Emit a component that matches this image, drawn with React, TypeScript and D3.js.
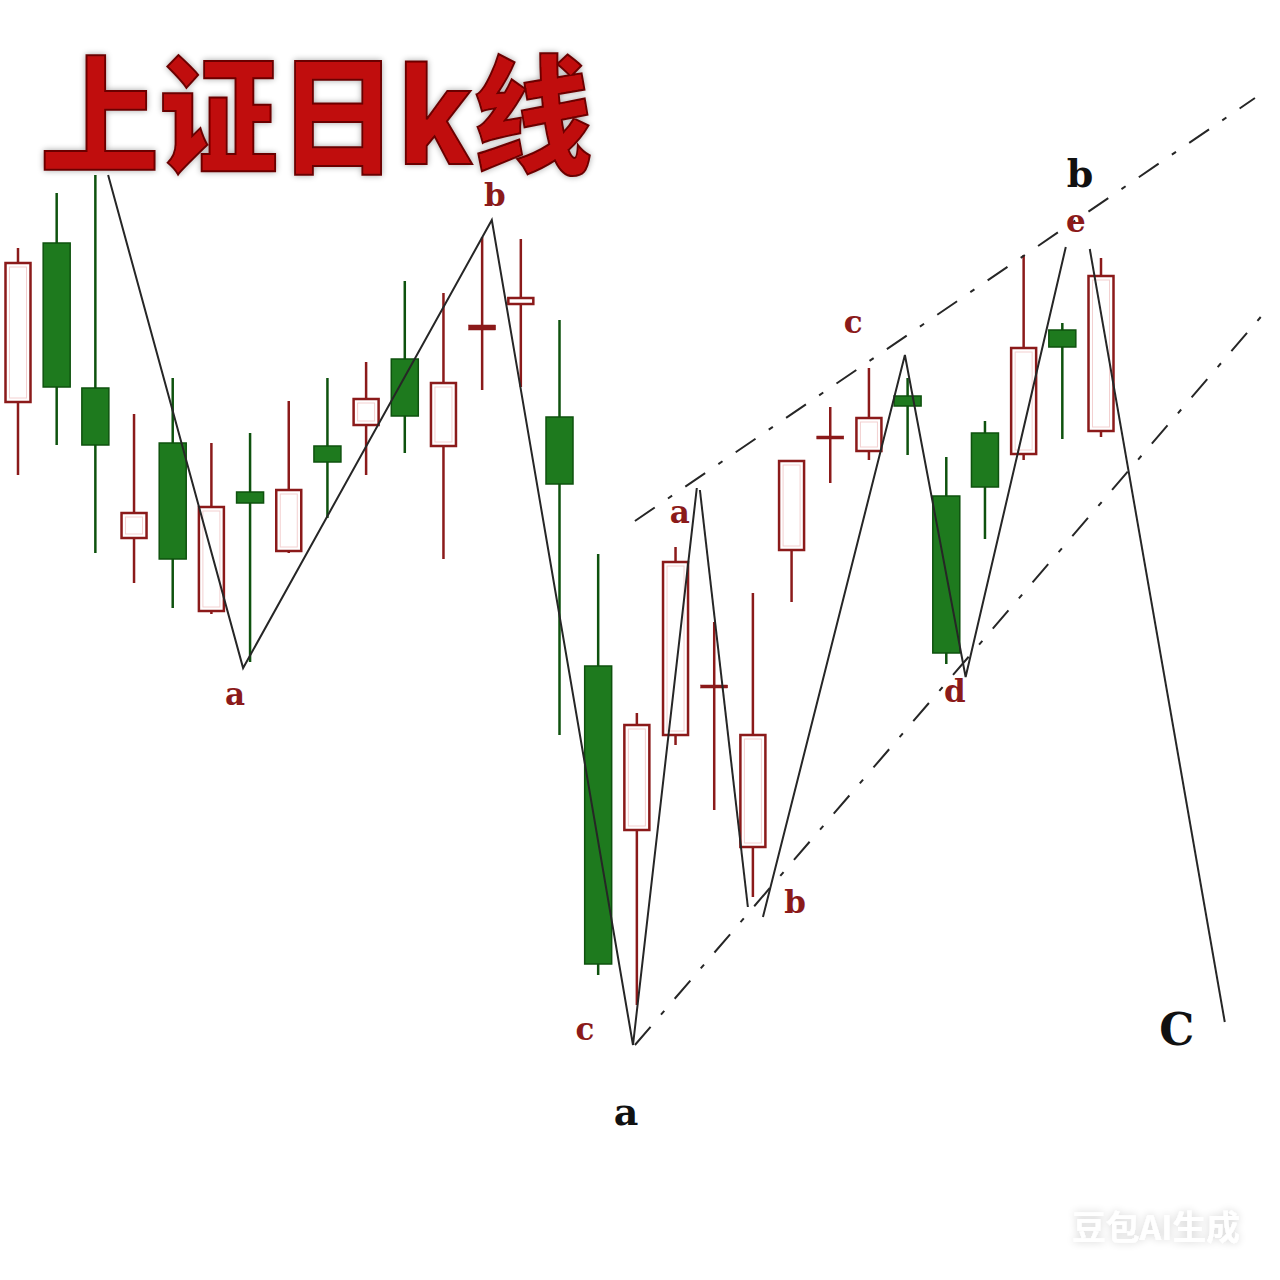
import React from 'react';
import * as d3 from 'd3';

const W = 1280;
const H = 1280;

// daily candles, price units
const opens = [697, 857, 712, 561, 657, 488, 608, 548, 654, 674, 741, 653, 770, 795, 683, 434, 269, 364, 414, 252, 549, 663, 648, 704, 604, 667, 645, 770, 668];
const closes = [838, 713, 655, 588, 541, 594, 597, 611, 638, 702, 684, 718, 775, 803, 616, 136, 376, 539, 415, 366, 640, 664, 683, 694, 447, 613, 753, 753, 825];
const highs = [852, 907, 925, 686, 722, 657, 667, 699, 722, 738, 819, 807, 863, 861, 780, 546, 387, 553, 478, 507, 640, 693, 732, 722, 643, 679, 845, 777, 842];
const lows = [625, 655, 547, 517, 492, 486, 438, 547, 582, 625, 647, 541, 710, 713, 365, 125, 95, 355, 290, 203, 498, 617, 640, 645, 436, 561, 640, 661, 663];

// wave lines (candle index, price)
const waveA = { idx: [2.33, 5.82, 12.25, 15.9, 17.55], price: [925, 432, 880, 55, 612] };
const waveB = { idx: [17.63, 18.87], price: [610, 193] };
const waveC = { idx: [19.26, 22.93, 24.5, 27.09], price: [183, 745, 423, 853] };
const waveD = { idx: [27.71, 31.2], price: [851, 78] };
const channelTop = { idx: [15.95, 31.98], price: [579, 1002] };
const channelBottom = { idx: [15.95, 32.24], price: [55, 788] };

// wave labels
const labelText = ['a', 'b', 'c', 'a', 'b', 'c', 'd', 'e', 'b', 'a', 'C'];
const labelIdx = [5.61, 12.33, 14.66, 17.11, 20.09, 21.59, 24.22, 27.35, 27.46, 15.72, 29.96];
const labelPrice = [395, 894, 60, 577, 187, 767, 398, 868, 913, -25, 55];
const labelDark = [false, false, false, false, false, false, false, false, true, true, true];

const RED = '#8b1a1a';
const GREEN = '#1e7a1e';
const GREEN_DARK = '#0e520e';

const x = d3.scaleLinear().domain([0, 28]).range([18, 1101]);
const y = d3.scaleLinear().domain([0, 1000]).range([1100, 100]);
const bodyW = 27;

const line = d3.line<[number, number]>().x(d => x(d[0])).y(d => y(d[1]));
const path = (s: { idx: number[]; price: number[] }) =>
  line(s.idx.map((v, i) => [v, s.price[i]] as [number, number])) || '';

export default function App() {
  const candles = opens.map((o, i) => ({ o, c: closes[i], h: highs[i], l: lows[i] }));
  return (
    <svg width={W} height={H} style={{ position: 'absolute', left: 0, top: 0, background: '#fff' }}>
      <defs>
        <filter id="halo" x="-10%" y="-20%" width="120%" height="140%">
          <feGaussianBlur in="SourceAlpha" stdDeviation="3" />
          <feComponentTransfer><feFuncA type="linear" slope="0.35" /></feComponentTransfer>
          <feMerge><feMergeNode /><feMergeNode in="SourceGraphic" /></feMerge>
        </filter>
        <filter id="wm" x="-10%" y="-30%" width="120%" height="160%">
          <feGaussianBlur in="SourceAlpha" stdDeviation="4" />
          <feComponentTransfer><feFuncA type="linear" slope="0.18" /></feComponentTransfer>
          <feMerge><feMergeNode /><feMergeNode in="SourceGraphic" /></feMerge>
        </filter>
      </defs>

      {/* candles */}
      {candles.map((d, i) => {
        const up = d.c >= d.o;
        const cx = x(i);
        const top = y(Math.max(d.o, d.c));
        const bot = y(Math.min(d.o, d.c));
        const thin = Math.abs(d.o - d.c) <= 5;
        const wick = up ? RED : GREEN_DARK;
        return (
          <g key={i}>
            <line x1={cx} x2={cx} y1={y(d.h)} y2={y(d.l)} stroke={wick} strokeWidth={2.5} />
            {thin ? (
              <rect x={cx - bodyW / 2} y={top} width={bodyW} height={Math.max(bot - top, 3)}
                fill={up ? RED : GREEN} stroke={up ? RED : GREEN_DARK} strokeWidth={0.5} />
            ) : up ? (
              <g>
                <rect x={cx - bodyW / 2 + 1} y={top + 1} width={bodyW - 2} height={bot - top - 2}
                  fill="#fff" stroke={RED} strokeWidth={2.5} />
                <rect x={cx - bodyW / 2 + 5} y={top + 5} width={bodyW - 10} height={Math.max(bot - top - 10, 0)}
                  fill="none" stroke="#f3d0d0" strokeWidth={1} />
              </g>
            ) : (
              <rect x={cx - bodyW / 2} y={top} width={bodyW} height={bot - top}
                fill={GREEN} stroke={GREEN_DARK} strokeWidth={1.5} />
            )}
          </g>
        );
      })}

      {/* wave lines */}
      <g fill="none" stroke="#262626" strokeWidth={2}>
        {[waveA, waveB, waveC, waveD].map((s, i) => <path key={i} d={path(s)} />)}
      </g>
      <g fill="none" stroke="#262626" strokeWidth={2} strokeDasharray="24 16 5 16">
        <path d={path(channelTop)} />
        <path d={path(channelBottom)} />
      </g>

      {/* labels */}
      {labelText.map((t, i) => (
        <text key={i} x={x(labelIdx[i])} y={y(labelPrice[i])} textAnchor="middle"
          fontFamily="'DejaVu Serif', serif" fontWeight="bold"
          fontSize={labelDark[i] ? (t === 'C' ? 44 : 38) : 31}
          fill={labelDark[i] ? '#111' : RED}>{t}</text>
      ))}

      {/* title */}
      <text x={40} y={164} fontFamily="'Noto Sans CJK SC', sans-serif" fontWeight={900}
        fontSize={128} fill="#c00a0a" stroke="#6a0000" strokeWidth={2}
        textLength={552} lengthAdjust="spacingAndGlyphs" filter="url(#halo)">上证日k线</text>

      {/* watermark */}
      <text x={1072} y={1240} fontFamily="'Noto Sans CJK SC', sans-serif" fontWeight={700}
        fontSize={34} fill="#fff" textLength={168} lengthAdjust="spacingAndGlyphs"
        filter="url(#wm)">豆包AI生成</text>
    </svg>
  );
}
